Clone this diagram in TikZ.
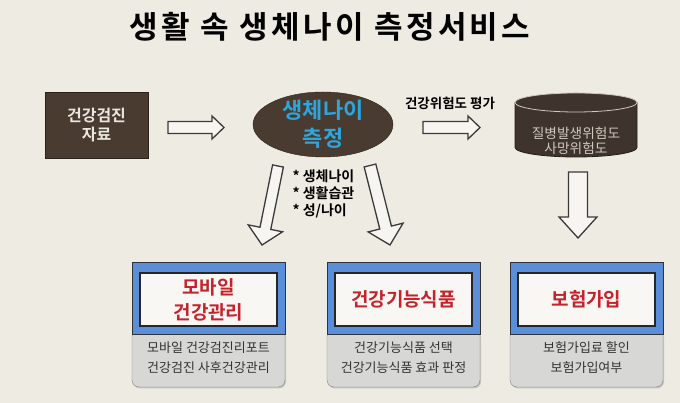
\documentclass[tikz,border=0pt]{standalone}
\usepackage{fontspec}
\setmainfont{Noto Sans CJK KR}[BoldFont={Noto Sans CJK KR Bold}]
\usetikzlibrary{shapes.geometric,calc,shadows}
\definecolor{bgbeige}{HTML}{EEEBE3}
\definecolor{boxbrown}{HTML}{4A3B31}
\definecolor{cylbrown}{HTML}{3E342D}
\definecolor{cylrim}{HTML}{CFC8BD}
\definecolor{paletext}{HTML}{ECE8E0}
\definecolor{agecyan}{HTML}{2BA6DF}
\definecolor{frameblue}{HTML}{5A8ED8}
\definecolor{titlered}{HTML}{C62229}
\definecolor{notegray}{HTML}{D7D7D5}
\definecolor{inkline}{HTML}{3A3A3A}
\newcommand{\blockarrow}[5]{%
	\coordinate (neck) at ($(#2)!#5!(#1)$);
	\filldraw[blockline] ($(#1)!#3!90:(#2)$) -- ($(neck)!#3!90:(#2)$) -- ($(neck)!#4!90:(#2)$) -- (#2) -- ($(neck)!#4!-90:(#2)$) -- ($(neck)!#3!-90:(#2)$) -- ($(#1)!#3!-90:(#2)$) -- cycle;
}
\begin{document}
\begin{tikzpicture}[x=1pt,y=1pt,
	blockline/.style={draw=inkline,line width=1.3pt,fill=bgbeige!50!white,line join=miter},
	titletext/.style={font=\bfseries\fontsize{31}{36}\selectfont\addfontfeature{LetterSpace=11}},
	brownbox/.style={rectangle,fill=boxbrown,draw=boxbrown!60!black,minimum width=103pt,minimum height=66pt,text=paletext,font=\bfseries\fontsize{16}{19.5}\selectfont,align=center},
	ageoval/.style={ellipse,fill=boxbrown,draw=boxbrown!60!black,minimum width=140pt,minimum height=65pt,inner sep=0pt},
	agetext/.style={text=agecyan,font=\bfseries\fontsize{22}{28}\selectfont,align=center},
	risktext/.style={font=\bfseries\fontsize{13.5}{16}\selectfont},
	cyltext/.style={text=cylrim,font=\fontsize{13.7}{15}\selectfont,align=center},
	bullettext/.style={font=\bfseries\fontsize{14}{17}\selectfont,align=left},
	notebox/.style={rectangle,rounded corners=7pt,fill=notegray,draw=black!50,minimum width=153pt,minimum height=58pt,text=black!80,font=\fontsize{13}{20}\selectfont,align=center,drop shadow={shadow xshift=1pt,shadow yshift=-1.5pt,opacity=.35}},
	blueframe/.style={rectangle,fill=frameblue,draw=black!80,line width=1pt,minimum width=153pt,minimum height=72pt},
	whitepanel/.style={rectangle,fill=bgbeige!40!white,draw=black!85,line width=1.5pt,minimum width=137pt,minimum height=53pt,text=titlered,font=\bfseries\fontsize{19}{25}\selectfont,align=center}]
	\fill[bgbeige] (0,0) rectangle (680,403);
	\node[titletext] (title) at (330,376) {생활 속 생체나이 측정서비스};
	\node[brownbox] (checkup) at (96.5,278) {건강검진\\자료};
	\node[ageoval] (bioage) at (323,278.5) {};
	\node[agetext] (bioagetext) at (bioage) {생체나이\\측정};
	\node[risktext] (risklabel) at (450,300) {건강위험도 평가};
	\filldraw[fill=cylbrown,draw=cylbrown!60!black,line width=0.8pt] (515,300.5) -- (515,255.5) arc[start angle=180,end angle=360,x radius=61pt,y radius=9.5pt] -- (637,300.5) -- cycle;
	\filldraw[fill=cylbrown,draw=cylrim,line width=0.8pt] (576,300.5) ellipse[x radius=61pt,y radius=9.5pt];
	\node[cyltext] (risk) at (576,262) {질병발생위험도\\사망위험도};
	\node[bullettext,anchor=west] (bullets) at (289,209) {* 생체나이\\* 생활습관\\* 성/나이};
	\coordinate (intail) at (168,275.5);
	\coordinate (intip) at (224,275.5);
	\coordinate (outtail) at (423,275.5);
	\coordinate (outtip) at (480,275.5);
	\coordinate (lefttail) at (278,237);
	\coordinate (lefttip) at (262,158);
	\coordinate (righttail) at (370,237.5);
	\coordinate (righttip) at (390,158);
	\coordinate (downtail) at (578,231);
	\coordinate (downtip) at (578,165);
	\blockarrow{intail}{intip}{6pt}{11.5pt}{12pt}
	\blockarrow{outtail}{outtip}{6pt}{11.5pt}{12pt}
	\blockarrow{lefttail}{lefttip}{5.5pt}{17.5pt}{17pt}
	\blockarrow{righttail}{righttip}{6pt}{18pt}{18pt}
	\blockarrow{downtail}{downtip}{9.5pt}{19pt}{21pt}
	\node[notebox] (mobilenote) at (208.5,45) {모바일 건강검진리포트\\건강검진 사후건강관리};
	\node[blueframe] (mobile) at (208.5,104) {};
	\node[whitepanel] (mobiletitle) at (208.5,103.5) {모바일\\건강관리};
	\node[notebox] (foodnote) at (403.5,45) {건강기능식품 선택\\건강기능식품 효과 판정};
	\node[blueframe] (food) at (403.5,104) {};
	\node[whitepanel] (foodtitle) at (403.5,103.5) {건강기능식품};
	\node[notebox] (insurenote) at (586.5,45) {보험가입료 할인\\보험가입여부};
	\node[blueframe] (insure) at (586.5,104) {};
	\node[whitepanel] (insuretitle) at (586.5,103.5) {보험가입};
\end{tikzpicture}
\end{document}
